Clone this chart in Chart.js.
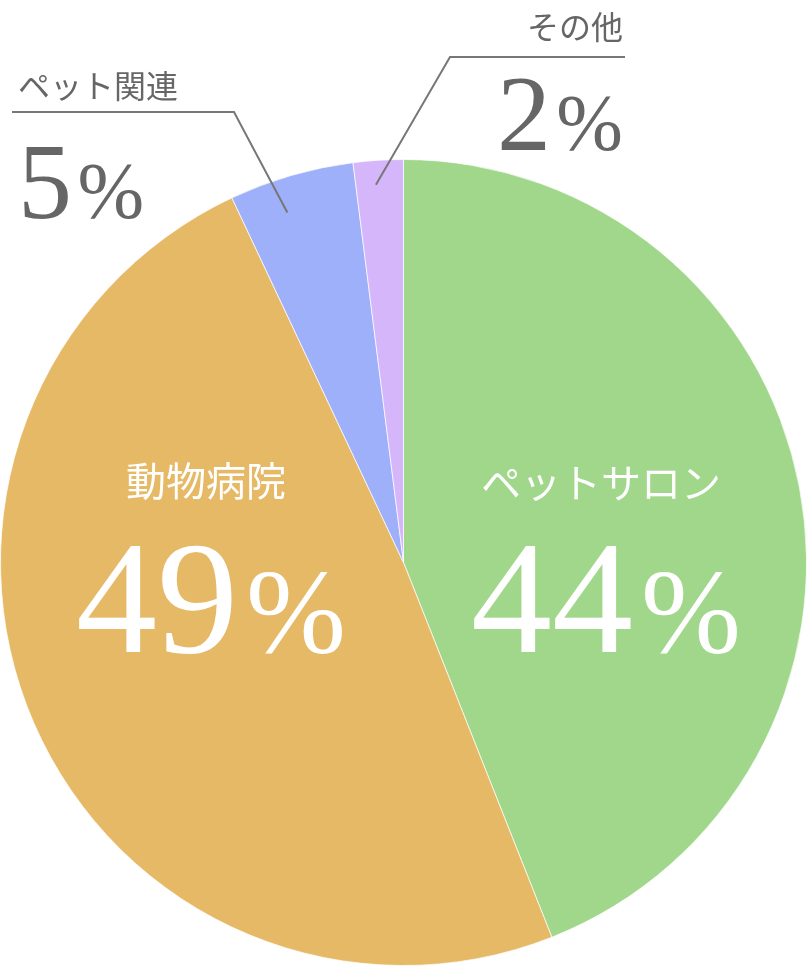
<!DOCTYPE html>
<html lang="ja">
<head>
    <meta charset="UTF-8">
    <title>Pie</title>
    <style>
        html, body { margin: 0; padding: 0; background: #fff; }
        #wrap { width: 807px; height: 966px; position: relative; }
    </style>
</head>
<body>
    <div id="wrap"><canvas id="myChart"></canvas></div>

    <script src="https://cdn.jsdelivr.net/npm/chart.js@4.4.0/dist/chart.umd.min.js"></script>
    <script>
        // data
        let labels = ['ペットサロン', '動物病院', 'ペット関連', 'その他'];
        let values = [44, 49, 5, 2];
        let colors = ['#a0d78a', '#e6b967', '#9db0f9', '#d5b6fb'];

        const jpFont = '"Noto Sans CJK JP", "Noto Sans", sans-serif';
        const numFont = '"Liberation Serif", "DejaVu Serif", serif';

        // label placement (inside: side offset from centre, outside: callout)
        const place = [
            { type: 'in', dx: 0.49, titleDy: -0.198, numDy: 0.222 },
            { type: 'in', dx: -0.49, titleDy: -0.203, numDy: 0.222 },
            { type: 'out', align: 'left', tx: 18, ty: 86, ny: 218, lineY: 112, lineX0: 12, lineX1: 234, tipF: 0.38, tipR: 0.915 },
            { type: 'out', align: 'right', tx: 623, ty: 27, ny: 150, lineY: 57, lineX0: 625, lineX1: 450, tipF: 0.42, tipR: 0.94 }
        ];

        function drawPct(ctx, value, x, y, align, digitSize, pctSize) {
            ctx.font = digitSize + 'px ' + numFont;
            let dw = ctx.measureText(String(value)).width;
            ctx.font = pctSize + 'px ' + numFont;
            let pw = ctx.measureText('%').width;
            let gap = digitSize * 0.05;
            let total = dw + gap + pw;
            let left = align === 'center' ? x - total / 2 : (align === 'right' ? x - total : x);
            ctx.textAlign = 'left';
            ctx.textBaseline = 'alphabetic';
            ctx.font = digitSize + 'px ' + numFont;
            ctx.fillText(String(value), left, y);
            ctx.font = pctSize + 'px ' + numFont;
            ctx.fillText('%', left + dw + gap, y);
        }

        const labelPlugin = {
            id: 'labelPlugin',
            afterDraw(chart) {
                const ctx = chart.ctx;
                const meta = chart.getDatasetMeta(0);
                meta.data.forEach((arc, i) => {
                    const p = place[i];
                    const R = arc.outerRadius;
                    ctx.save();
                    if (p.type === 'in') {
                        const x = arc.x + p.dx * R;
                        ctx.fillStyle = '#ffffff';
                        ctx.font = '40px ' + jpFont;
                        ctx.textAlign = 'center';
                        ctx.textBaseline = 'middle';
                        ctx.fillText(labels[i], x, arc.y + p.titleDy * R);
                        drawPct(ctx, values[i], x + 5, arc.y + p.numDy * R, 'center', 162, 120);
                    } else {
                        const a = arc.startAngle + (arc.endAngle - arc.startAngle) * p.tipF;
                        const ex = arc.x + Math.cos(a) * R * p.tipR;
                        const ey = arc.y + Math.sin(a) * R * p.tipR;
                        ctx.strokeStyle = '#777777';
                        ctx.lineWidth = 2;
                        ctx.beginPath();
                        ctx.moveTo(p.lineX0, p.lineY);
                        ctx.lineTo(p.lineX1, p.lineY);
                        ctx.lineTo(ex, ey);
                        ctx.stroke();
                        ctx.fillStyle = '#666666';
                        ctx.font = '32px ' + jpFont;
                        ctx.textAlign = p.align;
                        ctx.textBaseline = 'middle';
                        ctx.fillText(labels[i], p.tx, p.ty);
                        drawPct(ctx, values[i], p.tx, p.ny, p.align, 108, 80);
                    }
                    ctx.restore();
                });
            }
        };

        var ctx = document.getElementById('myChart').getContext('2d');
        var myChart = new Chart(ctx, {
            type: 'pie',
            data: {
                labels: labels,
                datasets: [{
                    data: values,
                    backgroundColor: colors,
                    borderColor: 'rgba(255,255,255,0.7)',
                    borderWidth: 1
                }]
            },
            options: {
                responsive: true,
                maintainAspectRatio: false,
                animation: false,
                layout: { padding: { top: 159, bottom: 0, left: 0, right: 0 } },
                plugins: {
                    legend: { display: false },
                    tooltip: { enabled: false }
                }
            },
            plugins: [labelPlugin]
        });
    </script>
</body>
</html>
